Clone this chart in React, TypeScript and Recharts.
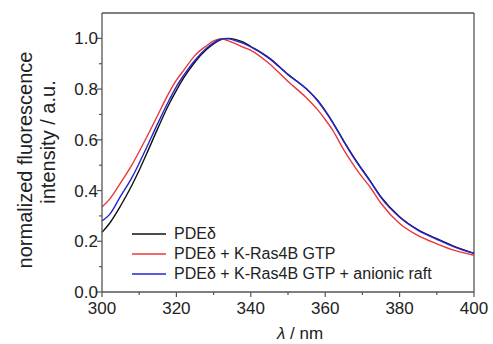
import { LineChart, Line, XAxis, YAxis, Legend, ReferenceLine } from 'recharts';

const wavelength = [300, 302, 305, 308, 310, 312, 315, 318, 320, 322, 325, 328, 330, 332, 334, 336, 338, 340, 345, 350, 355, 358, 360, 362, 365, 368, 370, 372, 375, 380, 385, 390, 395, 400];
const pde = [0.235, 0.27, 0.34, 0.42, 0.48, 0.545, 0.645, 0.74, 0.795, 0.845, 0.907, 0.955, 0.978, 0.995, 1.0, 0.995, 0.985, 0.968, 0.922, 0.858, 0.8, 0.755, 0.715, 0.67, 0.595, 0.525, 0.482, 0.44, 0.375, 0.297, 0.245, 0.21, 0.178, 0.152];
const pdeRas = [0.335, 0.365, 0.43, 0.5, 0.554, 0.61, 0.698, 0.785, 0.835, 0.875, 0.933, 0.97, 0.99, 0.998, 0.99, 0.978, 0.965, 0.953, 0.9, 0.83, 0.765, 0.718, 0.68, 0.638, 0.56, 0.492, 0.452, 0.415, 0.35, 0.27, 0.222, 0.19, 0.163, 0.145];
const pdeRaft = [0.28, 0.305, 0.378, 0.45, 0.508, 0.57, 0.665, 0.755, 0.81, 0.855, 0.914, 0.96, 0.982, 0.998, 0.998, 0.99, 0.98, 0.966, 0.92, 0.857, 0.8, 0.753, 0.713, 0.668, 0.593, 0.522, 0.48, 0.438, 0.372, 0.295, 0.243, 0.208, 0.176, 0.152];

const xTicks = [300, 310, 320, 330, 340, 350, 360, 370, 380, 390, 400];
const yTicks = [0, 0.1, 0.2, 0.3, 0.4, 0.5, 0.6, 0.7, 0.8, 0.9, 1.0];

const seriesNames = ['PDE\u03b4', 'PDE\u03b4 + K-Ras4B GTP', 'PDE\u03b4 + K-Ras4B GTP + anionic raft'];
const seriesColors = ['#111111', '#e8383a', '#2424d2'];

const data = wavelength.map((w, i) => ({ w, a: pde[i], b: pdeRas[i], c: pdeRaft[i] }));

const axisColor = '#555';
const font = '"Liberation Sans", Arial, sans-serif';

function XTick(props: any) {
    const { x, y, payload } = props;
    const major = payload.value % 20 === 0;
    return (
        <g>
            <line x1={x} x2={x} y1={y} y2={y + (major ? 5 : 3)} stroke={axisColor} strokeWidth={1.2} />
            {major && (
                <text x={x} y={y + 22} textAnchor="middle" fontSize={17} fontFamily={font} fill="#222">
                    {payload.value}
                </text>
            )}
        </g>
    );
}

function YTick(props: any) {
    const { x, y, payload } = props;
    const major = Math.round(payload.value * 10) % 2 === 0;
    return (
        <g>
            <line x1={x} x2={x - (major ? 5 : 3)} y1={y} y2={y} stroke={axisColor} strokeWidth={1.2} />
            {major && (
                <text x={x - 4} y={y + 6} textAnchor="end" fontSize={17} fontFamily={font} fill="#222">
                    {payload.value.toFixed(1)}
                </text>
            )}
        </g>
    );
}

function YLabel() {
    return (
        <g fontFamily={font} fontSize={20} fill="#222">
            <text transform="translate(32,160) rotate(-90)" textAnchor="middle">normalized fluorescence</text>
            <text transform="translate(55,142) rotate(-90)" textAnchor="middle">intensity / a.u.</text>
        </g>
    );
}

function XLabel() {
    return (
        <text x={300} y={339} textAnchor="middle" fontFamily={font} fontSize={17} fill="#222">
            <tspan fontStyle="italic">{'\u03bb'}</tspan> / nm
        </text>
    );
}

function LegendBox() {
    return (
        <div style={{ fontFamily: font, fontSize: 16, color: '#222', lineHeight: '20px' }}>
            {seriesNames.map((name, i) => (
                <div key={name} style={{ display: 'flex', alignItems: 'center', height: 20 }}>
                    <svg width={42} height={20} style={{ display: 'block' }}>
                        <line x1={0} x2={34} y1={10} y2={10} stroke={seriesColors[i]} strokeWidth={1.5} />
                    </svg>
                    <span>{name}</span>
                </div>
            ))}
        </div>
    );
}

export default function App() {
    return (
        <div style={{ position: 'absolute', left: 0, top: 0, background: '#fff' }}>
            <LineChart width={493} height={344} data={data} margin={{ top: 13, right: 19, left: 0, bottom: 0 }}>
                <XAxis
                    dataKey="w"
                    type="number"
                    domain={[300, 400]}
                    ticks={xTicks}
                    tick={XTick}
                    tickSize={0}
                    tickMargin={0}
                    tickLine={false}
                    height={52}
                    axisLine={{ stroke: axisColor, strokeWidth: 1.3 }}
                    label={<XLabel />}
                />
                <YAxis
                    type="number"
                    domain={[0, 1.1]}
                    ticks={yTicks}
                    tick={YTick}
                    tickSize={0}
                    tickMargin={0}
                    tickLine={false}
                    width={102}
                    axisLine={{ stroke: axisColor, strokeWidth: 1.3 }}
                    label={<YLabel />}
                />
                <ReferenceLine y={1.1} stroke={axisColor} strokeWidth={1.3} />
                <ReferenceLine x={400} stroke={axisColor} strokeWidth={1.3} />
                <Line type="monotone" dataKey="a" name={seriesNames[0]} stroke={seriesColors[0]} strokeWidth={1.4} dot={false} isAnimationActive={false} />
                <Line type="monotone" dataKey="b" name={seriesNames[1]} stroke={seriesColors[1]} strokeWidth={1.4} dot={false} isAnimationActive={false} />
                <Line type="monotone" dataKey="c" name={seriesNames[2]} stroke={seriesColors[2]} strokeWidth={1.4} dot={false} isAnimationActive={false} />
                <Legend
                    layout="vertical"
                    align="center"
                    verticalAlign="middle"
                    content={<LegendBox />}
                    wrapperStyle={{ position: 'absolute', left: 132, top: 224, width: 'auto', height: 'auto' }}
                />
            </LineChart>
        </div>
    );
}
